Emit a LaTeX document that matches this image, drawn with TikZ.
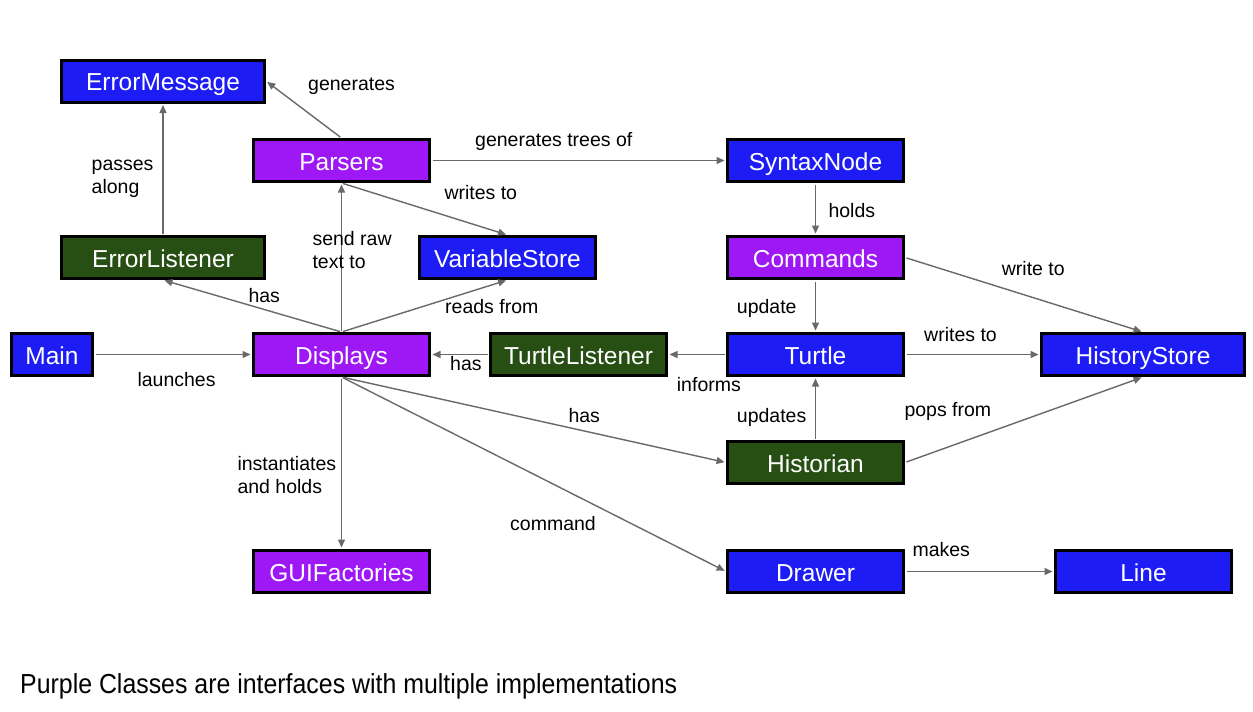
\documentclass[tikz,border=0pt]{standalone}
\usepackage{fontspec}
\setmainfont{Liberation Sans}
\usetikzlibrary{arrows.meta}
\definecolor{cblue}{RGB}{30,28,245}
\definecolor{cpurple}{RGB}{158,24,245}
\definecolor{cgreen}{RGB}{39,78,19}
\definecolor{cedge}{RGB}{105,105,105}
\tikzset{
  box/.style={draw=black, line width=3pt, text=white, inner sep=0pt,
    minimum height=42pt, text height=19pt, text depth=0pt,
    font=\fontsize{24.5}{28}\selectfont},
  wide/.style={minimum width=203pt},
  mid/.style={minimum width=176pt},
  bluebox/.style={box, fill=cblue},
  purplebox/.style={box, fill=cpurple},
  greenbox/.style={box, fill=cgreen},
  conn/.style={draw=cedge, line width=1.4pt, -{Triangle[length=8pt,width=7pt]}, shorten >=1.5pt, shorten <=1.5pt},
  lbl/.style={font=\fontsize{19.5}{23}\selectfont, align=left, inner sep=0pt, text=black, anchor=base west},
}
\begin{document}
\begin{tikzpicture}[x=1pt,y=-1pt]
\useasboundingbox (0,0) rectangle (1253,712);
\fill[white] (0,0) rectangle (1253,712);
% nodes
\node[bluebox, wide] (em) at (163,81) {ErrorMessage};
\node[purplebox, mid] (parsers) at (341.5,160.5) {Parsers};
\node[bluebox, mid] (syntax) at (815.5,160.5) {SyntaxNode};
\node[greenbox, wide] (el) at (163,257.5) {ErrorListener};
\node[bluebox, mid] (vs) at (507.5,257.5) {VariableStore};
\node[purplebox, mid] (commands) at (815.5,257.5) {Commands};
\node[bluebox, minimum width=81pt] (main) at (52,354.5) {Main};
\node[purplebox, mid] (displays) at (341.5,354.5) {Displays};
\node[greenbox, mid] (tl) at (578.5,354.5) {TurtleListener};
\node[bluebox, mid] (turtle) at (815.5,354.5) {Turtle};
\node[bluebox, wide] (hs) at (1143,354.5) {HistoryStore};
\node[greenbox, mid] (historian) at (815.5,462.5) {Historian};
\node[purplebox, mid] (gui) at (341.5,571.5) {GUIFactories};
\node[bluebox, mid] (drawer) at (815.5,571.5) {Drawer};
\node[bluebox, mid] (line) at (1143.5,571.5) {Line};
% connectors
\draw[conn] (parsers.north) -- (em.east);
\draw[conn] (el.north) -- (em.south);
\draw[conn] (parsers.east) -- (syntax.west);
\draw[conn] (parsers.south) -- (vs.north);
\draw[conn] (displays.north) -- (parsers.south);
\draw[conn] (displays.north) -- (el.south);
\draw[conn] (displays.north) -- (vs.south);
\draw[conn] (main.east) -- (displays.west);
\draw[conn] (tl.west) -- (displays.east);
\draw[conn] (turtle.west) -- (tl.east);
\draw[conn] (syntax.south) -- (commands.north);
\draw[conn] (commands.south) -- (turtle.north);
\draw[conn] (commands.east) -- (hs.north);
\draw[conn] (turtle.east) -- (hs.west);
\draw[conn] (historian.north) -- (turtle.south);
\draw[conn] (historian.east) -- (hs.south);
\draw[conn] (displays.south) -- (historian.west);
\draw[conn] (displays.south) -- (drawer.west);
\draw[conn] (displays.south) -- (gui.north);
\draw[conn] (drawer.east) -- (line.west);
% labels (base west = baseline of last line)
\node[lbl] (l1) at (308,90) {generates};
\node[lbl] (l2) at (91.5,193) {passes\\along};
\node[lbl] (l3) at (475,146.7) {generates trees of};
\node[lbl] (l4) at (444.3,199) {writes to};
\node[lbl] (l5) at (312.3,268) {send raw\\text to};
\node[lbl] (l6) at (248.3,302.3) {has};
\node[lbl] (l7) at (445,313.3) {reads from};
\node[lbl] (l8) at (137.3,386) {launches};
\node[lbl] (l9) at (450,370) {has};
\node[lbl] (l10) at (676.7,391.7) {informs};
\node[lbl] (l11) at (828.3,217.3) {holds};
\node[lbl] (l12) at (736.7,313.3) {update};
\node[lbl] (l13) at (1001.7,275.7) {write to};
\node[lbl] (l14) at (924,341) {writes to};
\node[lbl] (l15) at (736.7,422.3) {updates};
\node[lbl] (l16) at (904.3,416.7) {pops from};
\node[lbl] (l17) at (568.3,422.7) {has};
\node[lbl] (l18) at (510,530) {command};
\node[lbl] (l19) at (237.3,493.7) {instantiates\\and holds};
\node[lbl] (l20) at (912.3,556.7) {makes};
\node[font=\fontsize{27.5}{32}\selectfont, anchor=base west, inner sep=0pt] (note) at (20,693.3) {\scalebox{0.905}[1]{Purple Classes are interfaces with multiple implementations}};
\end{tikzpicture}
\end{document}
